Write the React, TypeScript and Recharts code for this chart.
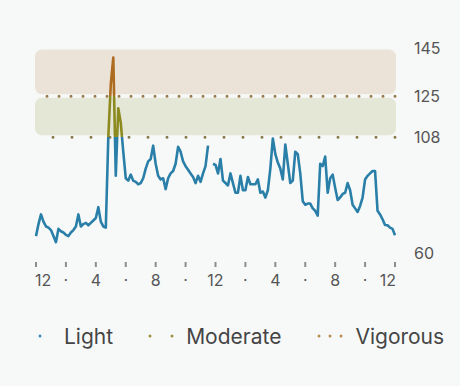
import { Legend, Line, LineChart, ReferenceArea, ReferenceLine, XAxis, YAxis } from 'recharts';

// one reading every 10 minutes, midnight to midnight (null = no reading)
const SAMPLE_MINUTES = 10;
const heartRate: (number | null)[] = [
  67, 72, 76, 73, 71, 70.5, 69.5, 67, 64.5, 70, 69, 68.5,
  67.5, 67, 68.5, 69.5, 71, 76, 71, 72, 72.5, 71.5, 72.5, 73.5,
  74.5, 79, 73, 71, 70.5, 108, 130, 141, 92, 120, 114, 102,
  91, 90, 92.5, 90, 89.5, 88.5, 89, 91, 95, 98, 99, 104.5,
  97, 92, 90.5, 91, 86.5, 91, 93, 94, 97, 104, 102, 98,
  96, 94.5, 93, 91.5, 89, 92, 89.5, 93, 96, 104.5, null, 97,
  96.5, 93, 99, 90, 89, 88, 93, 89, 85, 85, 92, 86,
  86, 91.5, 88.5, 88.5, 88.5, 90.5, 85, 85.5, 83, 86, 95, 107.5,
  101, 97.5, 95, 90.5, 105, 97, 89, 90, 102, 101, 93, 81.5,
  80, 80.5, 80.5, 78.5, 77.5, 75.5, 97, 96, 100, 85, 91, 92.5,
  87, 82, 83, 84.5, 85, 89, 86, 80, 78.5, 77, 79.5, 83,
  90.5, 92, 93, 94, 94, 77.5, 76, 74, 71.6, 71.5, 70.5, 70,
  67.4,
];

const hourTicks = [0, 120, 240, 360, 480, 600, 720, 840, 960, 1080, 1200, 1320, 1440];
const hourTickLabels = ['12', '·', '4', '·', '8', '·', '12', '·', '4', '·', '8', '·', '12'];
const bpmTicks = [60, 108, 125, 145];
const BPM_MIN = 60;
const MODERATE_FROM = 108;
const VIGOROUS_FROM = 125;
const BPM_MAX = 145;

const BLUE = '#2a7fa9';
const OLIVE = '#8c8a1f';
const BROWN = '#ad6c1f';

const data = heartRate.map((bpm, i) => ({ minute: i * SAMPLE_MINUTES, bpm }));

const readings = heartRate.filter((v): v is number => v != null);
const hi = Math.max(...readings);
const lo = Math.min(...readings);
const stopAt = (v: number) => Math.min(1, Math.max(0, (hi - v) / (hi - lo)));

const Band = (props: any) => {
  const { x, y, width, height, fill } = props;
  return <rect x={x - 1} y={y + 1.5} width={width + 2} height={height - 3.5} rx={7} fill={fill} />;
};

const HourTick = (props: any) => {
  const { x, y, payload } = props;
  const idx = hourTicks.indexOf(payload.value);
  const anchor = idx === 0 ? 'start' : idx === hourTicks.length - 1 ? 'end' : 'middle';
  const shift = idx === 0 ? -1 : idx === hourTicks.length - 1 ? 1 : 0;
  return (
    <g>
      <rect x={x - 1} y={y + 9} width={2} height={5} fill="#8d8d8d" />
      <text x={x + shift} y={y + 27} textAnchor={anchor} dominantBaseline="central" fill="#555" fontSize={16}>
        {hourTickLabels[idx]}
      </text>
    </g>
  );
};

const Dots = ({ xs, color }: { xs: number[]; color: string }) => (
  <svg width={36} height={10} style={{ display: 'block' }}>
    {xs.map((cx) => (
      <circle key={cx} cx={cx} cy={5} r={1.5} fill={color} />
    ))}
  </svg>
);

const ZoneLegend = () => (
  <div style={{ height: 60, display: 'flex', alignItems: 'center', fontSize: 21, color: '#454545' }}>
    <Dots xs={[4]} color="#3a8cc0" />
    <span style={{ marginLeft: -8 }}>Light</span>
    <span style={{ width: 33 }} />
    <Dots xs={[4, 26]} color="#9a9443" />
    <span style={{ marginLeft: 4 }}>Moderate</span>
    <span style={{ width: 34 }} />
    <Dots xs={[4, 15, 26]} color="#bb8c52" />
    <span style={{ marginLeft: 4 }}>Vigorous</span>
  </div>
);

const App = () => (
  <div style={{ position: 'absolute', left: 0, top: 0, width: 460, height: 386, background: '#f7f9f8', fontFamily: 'Inter, sans-serif' }}>
    <LineChart width={460} height={386} data={data} margin={{ top: 48, right: 15, left: 36, bottom: 20 }}>
      <defs>
        <linearGradient id="zones" x1="0" y1="0" x2="0" y2="1">
          <stop offset={0} stopColor={BROWN} />
          <stop offset={stopAt(VIGOROUS_FROM)} stopColor={BROWN} />
          <stop offset={stopAt(VIGOROUS_FROM)} stopColor={OLIVE} />
          <stop offset={stopAt(MODERATE_FROM)} stopColor={OLIVE} />
          <stop offset={stopAt(MODERATE_FROM)} stopColor={BLUE} />
          <stop offset={1} stopColor={BLUE} />
        </linearGradient>
      </defs>
      <XAxis
        dataKey="minute"
        type="number"
        domain={[0, 1440]}
        ticks={hourTicks}
        interval={0}
        height={53}
        axisLine={false}
        tickLine={false}
        tickSize={0}
        tickMargin={0}
        tick={<HourTick />}
      />
      <YAxis
        orientation="right"
        type="number"
        domain={[BPM_MIN, BPM_MAX]}
        ticks={bpmTicks}
        interval={0}
        width={50}
        axisLine={false}
        tickLine={false}
        tickSize={0}
        tickMargin={19}
        tick={{ fill: '#555', fontSize: 16 }}
      />
      <ReferenceArea y1={VIGOROUS_FROM} y2={BPM_MAX} fill="#ebe3d7" fillOpacity={1} shape={<Band />} />
      <ReferenceArea y1={MODERATE_FROM} y2={VIGOROUS_FROM} fill="#e4e6d6" fillOpacity={1} shape={<Band />} />
      <ReferenceLine y={VIGOROUS_FROM} stroke="#9c7a4b" strokeWidth={3} strokeDasharray="0 12" strokeLinecap="round" />
      <ReferenceLine y={MODERATE_FROM} stroke="#877b4c" strokeWidth={3} strokeDasharray="0 19" strokeLinecap="round" />
      <Legend verticalAlign="bottom" height={60} content={<ZoneLegend />} />
      <Line
        type="linear"
        dataKey="bpm"
        stroke="url(#zones)"
        strokeWidth={2.6}
        strokeLinejoin="round"
        dot={false}
        activeDot={false}
        connectNulls={false}
        isAnimationActive={false}
      />
    </LineChart>
  </div>
);

export default App;
